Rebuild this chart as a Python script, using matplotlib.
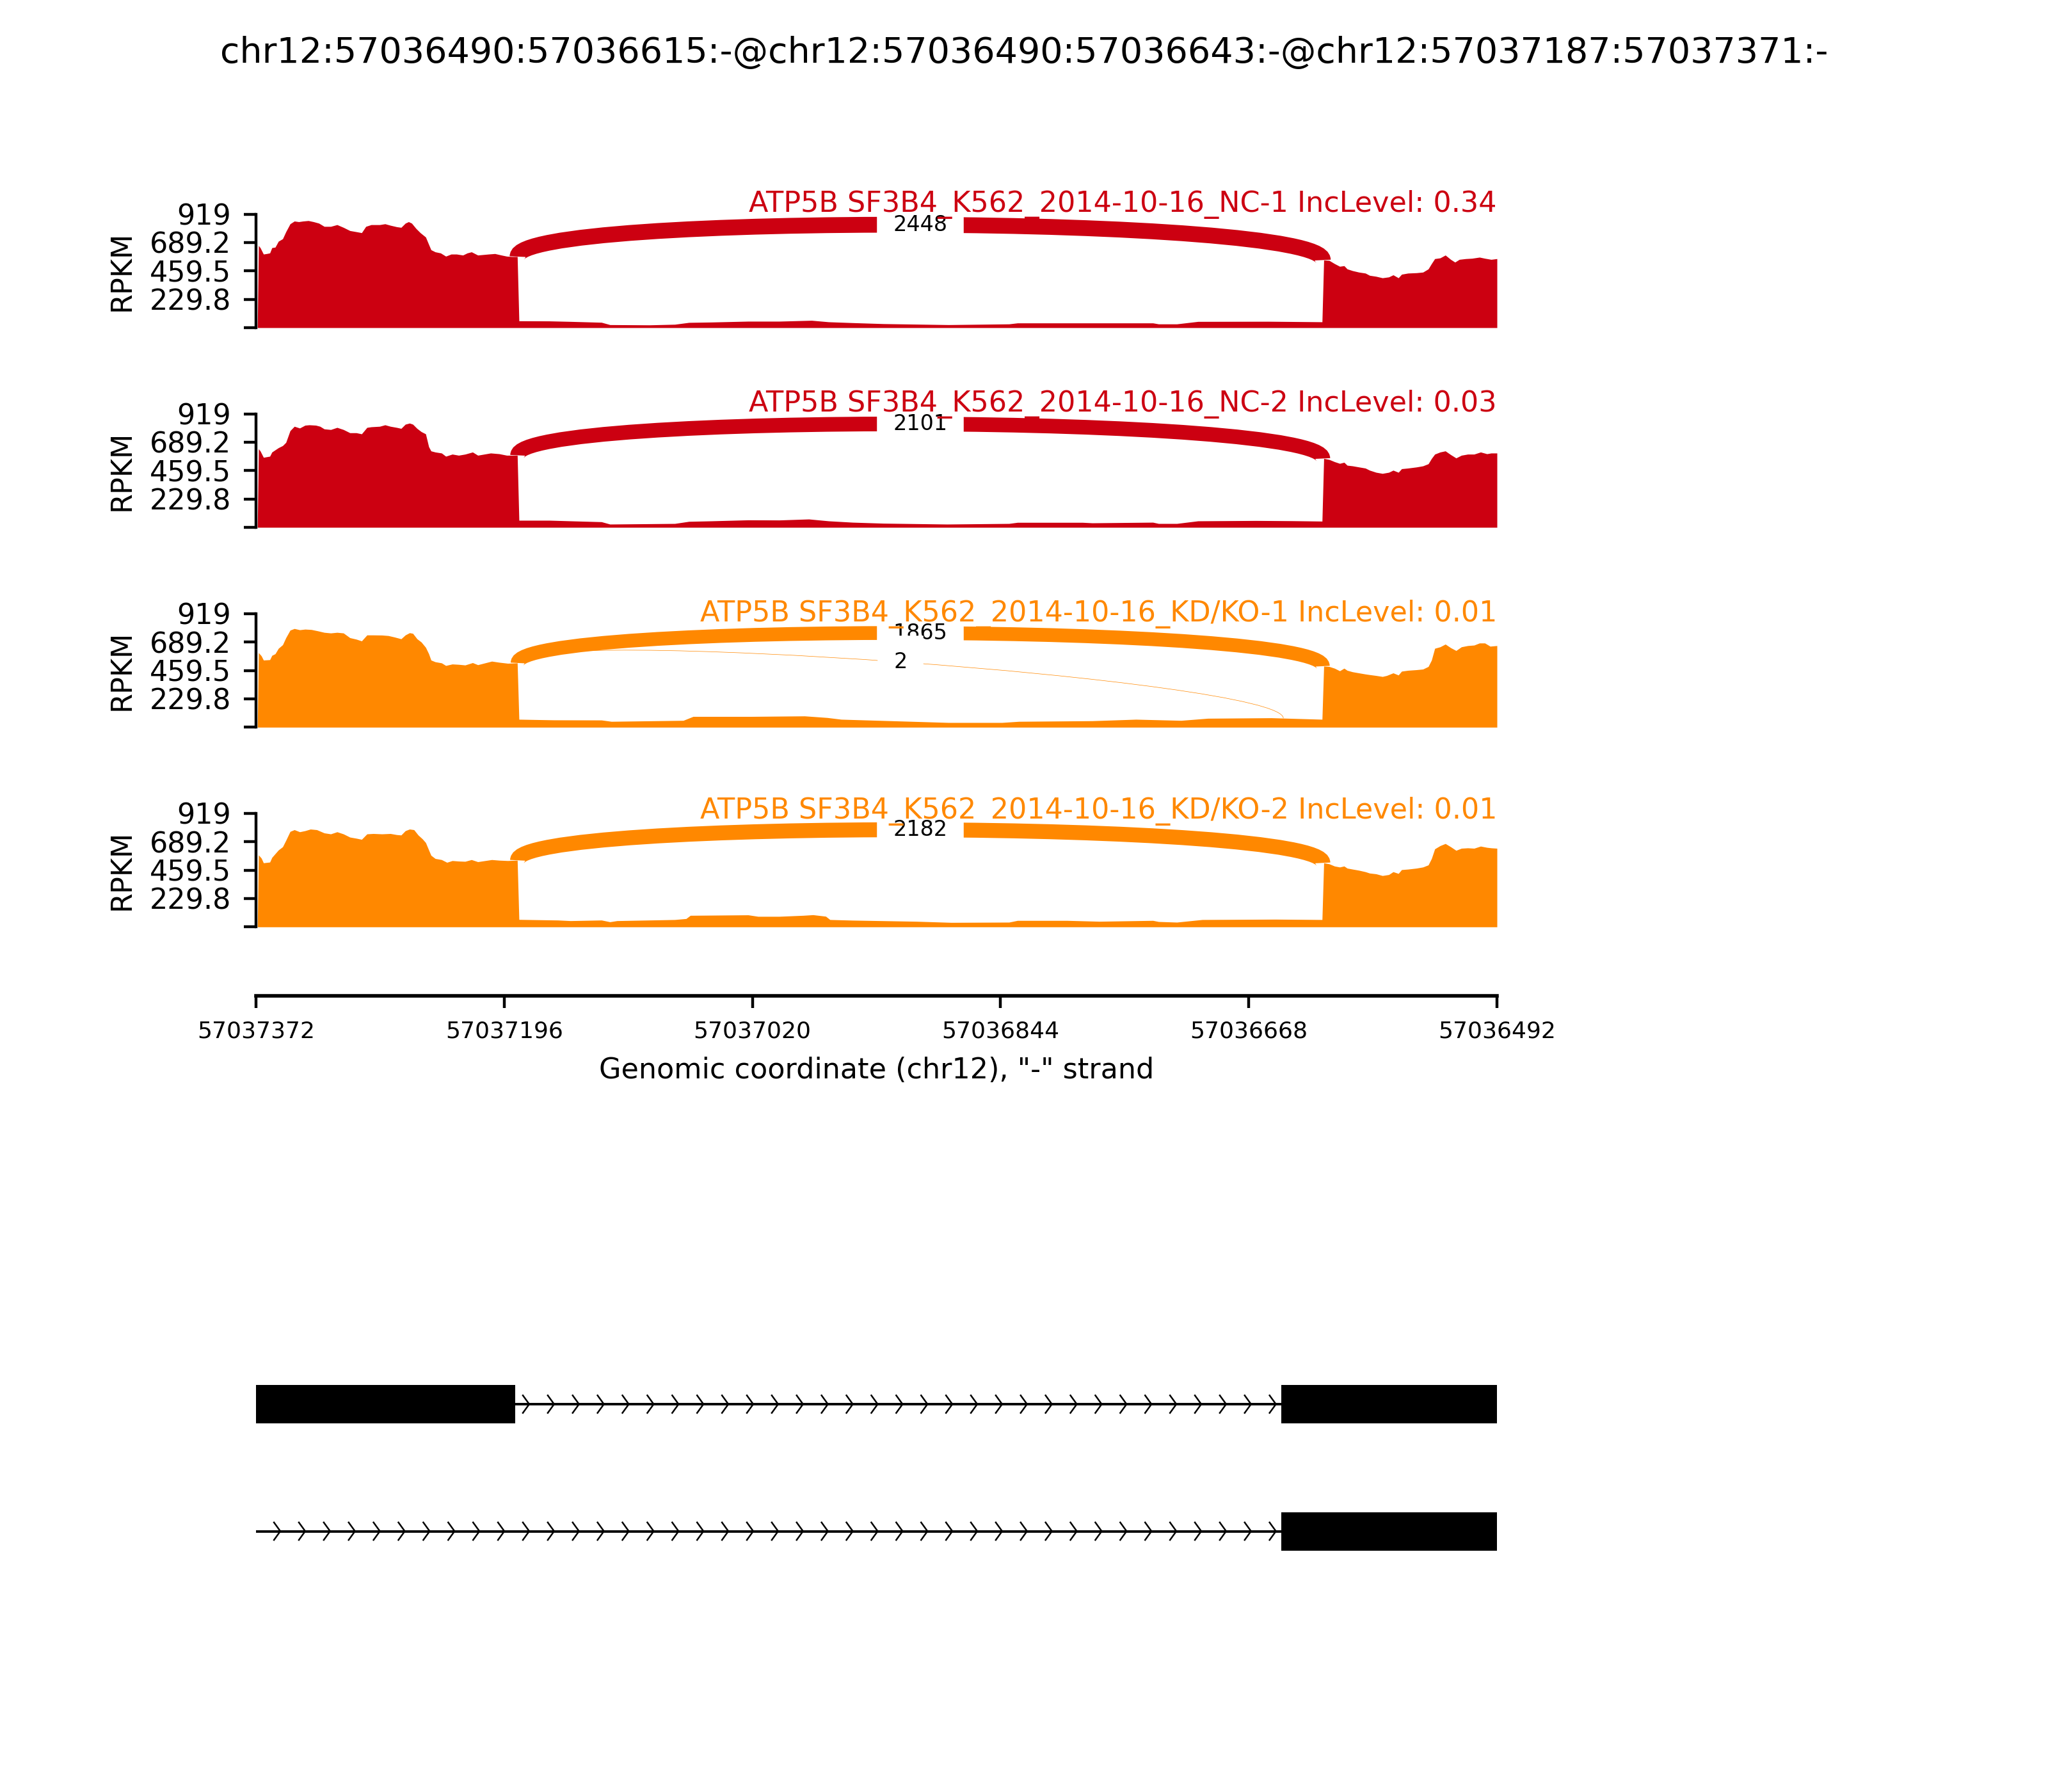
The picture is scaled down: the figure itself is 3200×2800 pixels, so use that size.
import numpy as np
import matplotlib
matplotlib.use("Agg")
import matplotlib.pyplot as plt
from matplotlib.path import Path
from matplotlib.patches import PathPatch, Rectangle

# ---------------- data ----------------
TITLE = "chr12:57036490:57036615:-@chr12:57036490:57036643:-@chr12:57037187:57037371:-"
PLOT_START = 57037372          # genomic coordinate at left edge (minus strand -> reversed)
PLOT_END = 57036492
XTICK_GENOMIC = [57037372, 57037196, 57037020, 57036844, 57036668, 57036492]
YMAX = 919
YTICKS = [0, 229.75, 459.5, 689.25, 919]
YTICKLABELS = ["", "229.8", "459.5", "689.2", "919"]

sample_labels = [
    "ATP5B SF3B4_K562_2014-10-16_NC-1 IncLevel: 0.34",
    "ATP5B SF3B4_K562_2014-10-16_NC-2 IncLevel: 0.03",
    "ATP5B SF3B4_K562_2014-10-16_KD/KO-1 IncLevel: 0.01",
    "ATP5B SF3B4_K562_2014-10-16_KD/KO-2 IncLevel: 0.01",
]
sample_colors = ["#CC0011", "#CC0011", "#FF8800", "#FF8800"]

# exons (genomic, start/end)
exon_up = (57037187, 57037371)
exon_dn_long = (57036490, 57036643)
exon_dn_short = (57036490, 57036615)

# coverage: x = bp offset from left edge, y = RPKM
p1_left_x = [1.8, 3.0, 5.3, 7.6, 9.8, 11.3, 13.6, 15.9, 18.9, 21.2, 24.2, 27.2, 30.3, 33.3, 37.1, 40.8, 44.6, 48.4,
             53.0, 57.5, 62.0, 66.6, 71.1, 74.9, 77.9, 81.7, 87.7, 91.5, 95.3, 99.8, 102.9, 105.9, 108.2, 110.4,
             113.5, 116.5, 120.3, 122.5, 124.1, 127.1, 130.9, 134.6, 138.4, 142.2, 146.7, 149.8, 152.8, 157.3,
             164.9, 169.4, 174.0, 177.8, 181.5, 185.3]
p1_left_y = [664, 647, 595, 599, 604, 647, 651, 699, 719, 776, 840, 862, 857, 862, 866, 857, 845, 819, 819, 833,
             811, 785, 776, 768, 819, 833, 833, 840, 828, 816, 811, 845, 857, 845, 802, 768, 733, 673, 630, 613,
             604, 578, 595, 595, 587, 604, 613, 587, 595, 599, 587, 578, 575, 575]
p2_left_x = [1.8, 3.0, 5.3, 9.8, 11.3, 15.9, 18.9, 21.2, 24.2, 27.2, 31.0, 34.8, 37.8, 42.4, 45.4, 48.4, 53.0, 57.5,
             62.0, 66.6, 71.1, 74.9, 78.7, 81.7, 87.7, 91.5, 95.3, 99.8, 102.9, 105.9, 108.9, 111.2, 114.2, 117.2,
             120.3, 122.5, 124.1, 127.1, 131.6, 134.6, 139.2, 143.7, 148.3, 153.6, 157.3, 166.4, 172.5, 177.8, 185.3]
p2_left_y = [635, 618, 566, 575, 609, 644, 661, 687, 782, 817, 803, 826, 829, 826, 817, 796, 791, 808, 791, 765,
             765, 756, 808, 813, 817, 829, 817, 808, 800, 834, 843, 834, 800, 774, 756, 652, 618, 609, 601, 575,
             592, 583, 592, 609, 583, 601, 595, 583, 583]
p3_left_x = [1.8, 3.8, 5.3, 9.8, 11.3, 13.6, 15.9, 18.9, 21.2, 24.2, 27.2, 31.0, 34.8, 39.3, 43.9, 48.4, 53.0, 57.5,
             62.0, 66.6, 71.1, 74.9, 78.7, 83.2, 89.3, 93.8, 98.3, 102.9, 105.9, 108.9, 111.2, 114.2, 117.2, 120.3,
             122.5, 124.1, 127.1, 131.6, 134.6, 139.2, 143.7, 148.3, 153.6, 157.3, 167.2, 172.5, 178.5, 185.3]
p3_left_y = [603, 577, 543, 546, 581, 594, 638, 667, 724, 785, 798, 788, 793, 790, 779, 767, 762, 767, 762, 724,
             712, 698, 746, 746, 745, 741, 729, 715, 746, 764, 759, 715, 689, 646, 594, 543, 529, 520, 499, 511,
             508, 503, 522, 505, 534, 525, 517, 520]
p4_left_x = [1.8, 3.8, 5.3, 9.8, 11.3, 15.9, 18.9, 21.2, 24.2, 27.2, 31.0, 34.8, 38.6, 43.1, 48.4, 53.0, 57.5, 62.0,
             66.6, 71.1, 74.9, 78.7, 83.2, 89.3, 95.3, 99.8, 102.9, 105.9, 108.9, 112.0, 115.0, 118.0, 120.3, 122.5,
             124.1, 127.1, 131.6, 135.4, 139.2, 143.7, 148.3, 152.8, 157.3, 167.2, 172.5, 178.5, 185.3]
p4_left_y = [582, 556, 518, 524, 562, 622, 648, 700, 772, 786, 769, 778, 791, 786, 760, 752, 769, 752, 726, 717,
             708, 752, 755, 752, 755, 746, 743, 778, 791, 786, 743, 712, 682, 622, 579, 553, 544, 522, 536, 532,
             530, 544, 527, 544, 539, 536, 539]

p1_intron_x = [186.5, 208, 223, 245, 251, 279, 297, 307, 323, 349, 371, 394, 406, 423, 445, 491, 534, 540, 586,
               636, 640, 653, 668, 718, 756.0]
p1_intron_y = [55, 54, 50, 43, 24, 22, 27, 42, 45, 52, 52, 59, 47, 40, 32, 24, 30, 38, 38, 38, 30, 30, 50, 51, 47]
p2_intron_x = [186.5, 208, 223, 245, 251, 279, 297, 307, 323, 349, 371, 392, 406, 423, 445, 490, 534, 540, 586,
               593, 636, 640, 653, 668, 709, 735, 756.0]
p2_intron_y = [57, 57, 52, 45, 26, 29, 31, 48, 52, 60, 59, 67, 52, 41, 33, 26, 31, 40, 40, 36, 41, 31, 31, 52, 55,
               53, 50]
p3_intron_x = [186.5, 211, 245, 252, 303, 310, 351, 389, 405, 415, 465, 491, 529, 541, 593, 624, 656, 675, 720,
               756.0]
p3_intron_y = [64, 59, 58, 47, 55, 87, 87, 91, 78, 64, 47, 38, 38, 47, 52, 64, 55, 72, 76, 64]
p4_intron_x = [186.5, 214, 223, 245, 251, 256, 297, 305, 308, 349, 356, 371, 388, 395, 404, 407, 423, 468, 493,
               534, 540, 575, 598, 636, 640, 653, 671, 723, 756.0]
p4_intron_y = [60, 55, 50, 55, 41, 50, 59, 67, 93, 97, 85, 85, 93, 98, 86, 59, 54, 45, 36, 38, 52, 52, 45, 52, 43,
               38, 59, 62, 59]

right_x_a = [757.2, 761.0, 764.8, 768.5, 771.6, 773.8, 777.6, 782.1, 786.7, 789.7, 794.3, 798.8, 803.3, 806.4,
             810.1, 812.4, 816.9, 823.0, 827.5, 831.3, 833.6, 835.9, 839.7, 843.4, 847.2, 850.2, 853.3, 857.8,
             862.3, 867.6, 871.4, 875.9, 880.0]
right_x_b = [757.2, 761.0, 764.8, 768.5, 771.6, 773.8, 777.6, 782.1, 786.7, 789.7, 794.3, 798.8, 803.3, 806.4,
             810.1, 812.4, 816.9, 823.0, 827.5, 831.3, 833.6, 835.9, 839.7, 843.4, 847.2, 851.0, 854.8, 859.3,
             863.8, 868.4, 872.9, 875.9, 880.0]
right_x_c = [757.2, 761.0, 764.8, 768.5, 771.6, 773.8, 777.6, 782.1, 786.7, 789.7, 794.3, 798.8, 801.8, 806.4,
             810.1, 812.4, 816.9, 823.0, 827.5, 831.3, 833.6, 835.9, 839.7, 843.4, 847.2, 851.0, 854.8, 859.3,
             863.8, 867.6, 871.4, 875.2, 880.0]
p1_right_y = [547, 544, 518, 496, 501, 475, 461, 449, 441, 423, 415, 403, 410, 427, 403, 432, 441, 444, 449, 475,
              518, 558, 564, 587, 552, 530, 552, 558, 561, 570, 561, 552, 558]
p2_right_y = [557, 549, 531, 517, 526, 502, 497, 488, 479, 462, 445, 436, 445, 462, 445, 474, 479, 488, 497, 514,
              557, 592, 609, 618, 588, 561, 583, 592, 592, 609, 595, 601, 601]
p3_right_y = [494, 491, 477, 456, 477, 460, 448, 439, 430, 425, 418, 410, 418, 439, 422, 453, 460, 465, 470, 491,
              543, 638, 650, 672, 643, 620, 650, 660, 664, 681, 681, 655, 660]
p4_right_y = [518, 510, 492, 484, 492, 475, 467, 458, 446, 435, 429, 415, 423, 446, 432, 463, 467, 475, 484, 501,
              553, 631, 657, 674, 648, 619, 636, 639, 636, 653, 643, 639, 636]

# junctions: (genomic donor, genomic acceptor), counts per sample (None = not drawn), arc height
junctions = [(57037187, 57036615), (57037187, 57036643)]
junction_counts = [[2448, None], [2101, None], [1865, 2], [2182, None]]
junction_heights = [[362, None], [355, None], [340, 308], [343, None]]
MAX_JXN = 2448

# gene model: transcripts (exons) and intron line starts
transcripts = [[exon_up, exon_dn_long, exon_dn_short], [exon_dn_long, exon_dn_short]]
transcript_line_start = [exon_up[0], PLOT_START]

# ---------------- helpers ----------------
def gx(g):
    return PLOT_START - g

panels = [
    (p1_left_x, p1_left_y, p1_intron_x, p1_intron_y, right_x_a, p1_right_y),
    (p2_left_x, p2_left_y, p2_intron_x, p2_intron_y, right_x_b, p2_right_y),
    (p3_left_x, p3_left_y, p3_intron_x, p3_intron_y, right_x_c, p3_right_y),
    (p4_left_x, p4_left_y, p4_intron_x, p4_intron_y, right_x_b, p4_right_y),
]

XMAX = gx(PLOT_END)

fig = plt.figure(figsize=(8, 7), dpi=400)
fig.suptitle(TITLE, fontsize=10)

ax_left = 400 / 3200
ax_width = 1939 / 3200
panel_bottoms_px = [512, 824, 1136.3, 1448.3]
panel_h = 177.5 / 2800
label_y = [1.017, 1.019, 0.929, 0.955]   # baseline of sample label, axes fraction

for i, (lx, ly, ix, iy, rx, ry) in enumerate(panels):
    ax = fig.add_axes([ax_left, 1 - panel_bottoms_px[i] / 2800, ax_width, panel_h])
    x = np.array([1.0] + lx + ix + rx)
    y = np.array([0] + ly + iy + ry, dtype=float)
    col = sample_colors[i]
    ax.fill_between(x, y, 0, color=col, lw=0)
    ax.set_xlim(0, XMAX)
    ax.set_ylim(0, YMAX)
    for s in ["top", "right", "bottom"]:
        ax.spines[s].set_visible(False)
    ax.set_xticks([])
    ax.set_yticks(YTICKS)
    ax.set_yticklabels(YTICKLABELS, fontsize=8)
    ax.set_ylabel("RPKM", fontsize=8)
    ax.patch.set_visible(False)

    for j, (d, a) in enumerate(junctions):
        cnt = junction_counts[i][j]
        if cnt is None:
            continue
        h = junction_heights[i][j]
        x0 = gx(d) + 0.5
        x1 = gx(a) - 0.5
        y0 = np.interp(x0 - 0.3, x, y)
        y1 = np.interp(x1 + 0.7, x, y)
        pts = [(x0, y0), (x0, y0 + h), (x1, y1 + h), (x1, y1)]
        path = Path(pts, [Path.MOVETO, Path.CURVE4, Path.CURVE4, Path.CURVE4])
        lw = 4.45 * np.sqrt(cnt / MAX_JXN)
        ax.add_patch(PathPatch(path, ec=col, fc="none", lw=lw, clip_on=False, capstyle="butt"))
        mx = 0.5 * (x0 + x1)
        my = 0.5 * (y0 + y1) + 0.75 * h
        ax.text(mx, my, str(cnt), fontsize=6, ha="center", va="center",
                backgroundcolor="w", zorder=5)

    ax.text(1.0, label_y[i], sample_labels[i], transform=ax.transAxes, ha="right",
            va="baseline", fontsize=8, color=col, zorder=7)

# x axis
xax = fig.add_axes([ax_left, 1 - 1556 / 2800, ax_width, 0.0005])
xax.set_xlim(0, XMAX)
for s in ["top", "right", "left"]:
    xax.spines[s].set_visible(False)
xax.spines["bottom"].set_linewidth(1.0)
xax.set_yticks([])
xax.set_xticks([gx(g) for g in XTICK_GENOMIC])
xax.set_xticklabels([str(g) for g in XTICK_GENOMIC], fontsize=6.5)
xax.set_xlabel('Genomic coordinate (chr12), "-" strand', fontsize=8)
xax.patch.set_visible(False)

# gene model
gax = fig.add_axes([ax_left, 1 - 2500 / 2800, ax_width, 400 / 2800])
gax.set_xlim(0, XMAX)
gax.set_ylim(0, 400)
gax.axis("off")
tx_y = [306, 107.5]
exon_half = 30
arrow_half = 13.7
arrow_w = 2.25
arrow_grid = 15 + 17.65 * np.arange(0, 51)
for t, exons in enumerate(transcripts):
    yc = tx_y[t]
    lefts = [gx(e) - 2 for (s, e) in exons]
    rights = [gx(s) - 1 for (s, e) in exons]
    line_start = gx(transcript_line_start[t]) - (1 if t == 0 else 0)
    line_end = min(lefts)
    if t == 0:
        line_end = min(lefts[1:])
    gax.plot([line_start, line_end], [yc, yc], color="k", lw=0.7, solid_capstyle="butt")
    for c in arrow_grid:
        if c - arrow_w > line_start and c + arrow_w < line_end:
            gax.plot([c - arrow_w, c + arrow_w, c - arrow_w],
                     [yc + arrow_half, yc, yc - arrow_half], color="k", lw=0.45)
    for l, r in zip(lefts, rights):
        gax.add_patch(Rectangle((l, yc - exon_half), r - l, 2 * exon_half, fc="k", ec="none"))

fig.savefig("out.png", dpi=400)
